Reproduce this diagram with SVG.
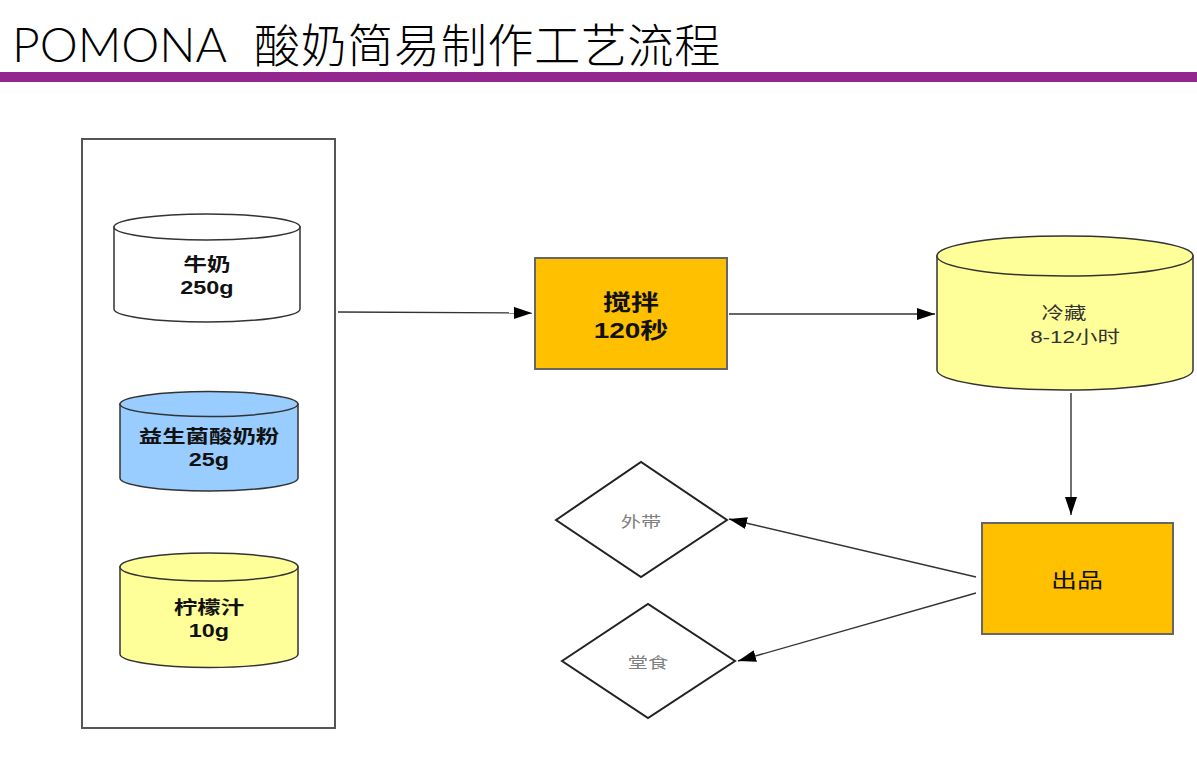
<svg xmlns="http://www.w3.org/2000/svg" width="1197" height="757" viewBox="0 0 1197 757">
<style>
.cyl{stroke:#333;stroke-width:1.5}
.lbl{font-family:"Liberation Sans","Noto Sans CJK SC",sans-serif;text-anchor:middle}
.b{font-weight:bold;font-size:18px;fill:#111}
.conn{stroke:#333;stroke-width:1.4;fill:none}
.box{fill:#FFC000;stroke:#666;stroke-width:2}
.dia{fill:#fff;stroke:#222;stroke-width:2}
</style>
<defs>
<marker id="ah" viewBox="0 0 18 12" refX="18" refY="6" markerWidth="18" markerHeight="12" markerUnits="userSpaceOnUse" orient="auto">
<path d="M0,0 L18,6 L0,12 Z" fill="#000"/>
</marker>
</defs>
<rect width="1197" height="757" fill="#fff"/>
<g id="title">
<text x="12" y="62" font-family="Lato,'Open Sans',sans-serif" font-weight="300" font-size="48" fill="#000">POMONA</text>
<text x="254" y="62" font-family="'Noto Sans CJK SC',sans-serif" font-weight="300" font-size="46" letter-spacing="0.7" fill="#000">酸奶简易制作工艺流程</text>
<rect x="0" y="72" width="1197" height="10" fill="#93278F"/>
</g>
<g id="ingredients">
<rect x="82" y="139" width="253" height="589" fill="#fff" stroke="#555" stroke-width="2"/>
</g>
<g id="milk">
<path class="cyl" fill="#fff" d="M114,227 L114,309 A93,13 0 0 0 300,309 L300,227 Z"/>
<ellipse class="cyl" fill="#fff" cx="207" cy="227" rx="93" ry="13"/>
<text class="lbl b" transform="translate(207,271) scale(1.3,1)">牛奶</text>
<text class="lbl b" transform="translate(207,294) scale(1.3,1)">250g</text>
</g>
<g id="powder">
<path class="cyl" fill="#99CCFF" d="M120,404 L120,478 A89,13 0 0 0 298,478 L298,404 Z"/>
<ellipse class="cyl" fill="#99CCFF" cx="209" cy="404" rx="89" ry="12.5"/>
<text class="lbl b" transform="translate(209,443) scale(1.3,1)">益生菌酸奶粉</text>
<text class="lbl b" transform="translate(209,466) scale(1.3,1)">25g</text>
</g>
<g id="lemon">
<path class="cyl" fill="#FFFF99" d="M120,567 L120,654 A89,13.5 0 0 0 298,654 L298,567 Z"/>
<ellipse class="cyl" fill="#FFFF99" cx="209" cy="567" rx="89" ry="14"/>
<text class="lbl b" transform="translate(209,614) scale(1.3,1)">柠檬汁</text>
<text class="lbl b" transform="translate(209,637) scale(1.3,1)">10g</text>
</g>
<g id="stir">
<rect class="box" x="535" y="258" width="192" height="111"/>
<text class="lbl" font-weight="bold" font-size="22" fill="#111" transform="translate(631,310) scale(1.27,1)">搅拌</text>
<text class="lbl" font-weight="bold" font-size="22" fill="#111" transform="translate(631,338) scale(1.27,1)">120秒</text>
</g>
<g id="fridge">
<path class="cyl" fill="#FFFF99" d="M937,256 L937,370 A128,20 0 0 0 1193,370 L1193,256 Z"/>
<ellipse class="cyl" fill="#FFFF99" cx="1065" cy="256" rx="128" ry="20"/>
<text class="lbl" font-size="17" fill="#333" transform="translate(1064,319) scale(1.32,1)">冷藏</text>
<text class="lbl" font-size="17" fill="#333" transform="translate(1075,343) scale(1.32,1)">8-12小时</text>
</g>
<g id="output">
<rect class="box" x="982" y="523" width="191" height="111"/>
<text class="lbl" font-size="20" fill="#111" transform="translate(1077,588) scale(1.3,1)">出品</text>
</g>
<g id="takeaway">
<polygon class="dia" points="556,520 641,462 727,520 641,577"/>
<text class="lbl" font-size="15" fill="#808080" transform="translate(641,527) scale(1.35,1)">外带</text>
</g>
<g id="dinein">
<polygon class="dia" points="562,661 648,604 735,661 648,718"/>
<text class="lbl" font-size="15" fill="#808080" transform="translate(648,668) scale(1.35,1)">堂食</text>
</g>
<g id="connectors">
<line class="conn" x1="338" y1="312" x2="532" y2="313" marker-end="url(#ah)"/>
<line class="conn" x1="729" y1="314" x2="935" y2="314" marker-end="url(#ah)"/>
<line class="conn" x1="1071" y1="393" x2="1071" y2="515" marker-end="url(#ah)"/>
<line class="conn" x1="976" y1="577" x2="729" y2="519" marker-end="url(#ah)"/>
<line class="conn" x1="976" y1="593" x2="738" y2="661" marker-end="url(#ah)"/>
</g>
</svg>
